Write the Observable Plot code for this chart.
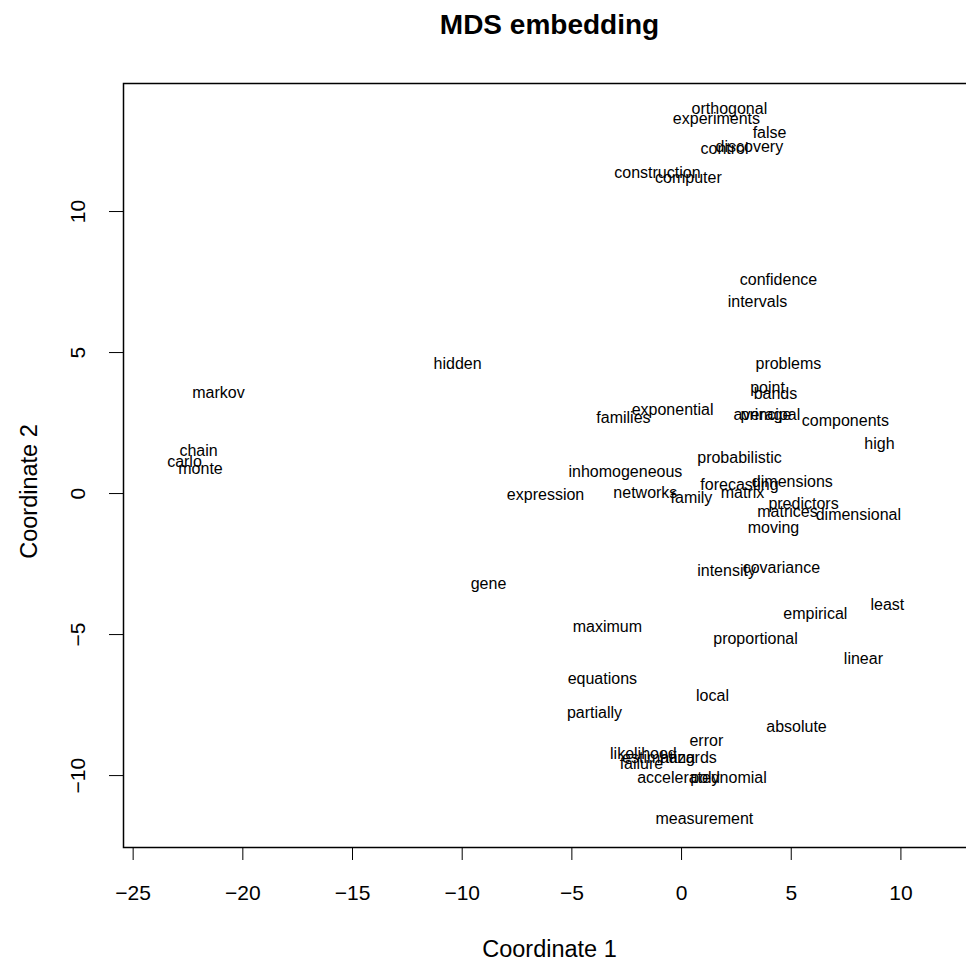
<!DOCTYPE html>
<html><head><meta charset="utf-8">
<script src="https://cdn.jsdelivr.net/npm/d3@7"></script>
<script src="https://cdn.jsdelivr.net/npm/@observablehq/plot@0.6"></script>
<style>body{margin:0;background:#fff;} #chart svg{display:block;}</style>
</head><body><div id="chart"></div>
<script>
const words = ["orthogonal","experiments","false","discovery","control","construction","computer",
  "confidence","intervals","hidden","markov","problems","point","bands","exponential","families",
  "average","principal","components","high","probabilistic","inhomogeneous","dimensions","forecasting",
  "matrix","expression","networks","family","predictors","matrices","dimensional","moving",
  "intensity","covariance","gene","least","empirical","maximum","proportional","linear",
  "equations","local","partially","absolute","error","likelihood","estimating","hazards",
  "failure","accelerated","polynomial","measurement","chain","carlo","monte"];
const xs = [2.18,1.59,4.01,3.09,1.96,-1.10,0.31,
  4.42,3.46,-10.21,-21.11,4.87,3.92,4.28,-0.41,-2.65,
  3.69,4.05,7.47,9.02,2.64,-2.56,5.05,2.64,
  2.78,-6.20,-1.65,0.45,5.56,4.83,8.06,4.19,
  2.05,4.55,-8.80,9.38,6.10,-3.38,3.37,8.29,
  -3.61,1.41,-3.97,5.24,1.13,-1.74,-1.05,0.31,
  -1.83,-0.14,2.14,1.04,-22.02,-22.66,-21.93];
const ys = [13.65,13.30,12.80,12.30,12.23,11.38,11.21,
  7.59,6.81,4.61,3.58,4.61,3.76,3.55,2.98,2.70,
  2.80,2.80,2.59,1.77,1.28,0.78,0.43,0.32,
  0.04,-0.04,0.04,-0.14,-0.35,-0.64,-0.74,-1.21,
  -2.73,-2.62,-3.19,-3.94,-4.26,-4.72,-5.14,-5.85,
  -6.56,-7.16,-7.77,-8.26,-8.76,-9.22,-9.36,-9.36,
  -9.57,-10.07,-10.07,-11.52,1.52,1.13,0.89];
const xTicks = [-25,-20,-15,-10,-5,0,5,10];
const yTicks = [-10,-5,0,5,10];
const titleText = "MDS embedding";
const xLabel = "Coordinate 1";
const yLabel = "Coordinate 2";

const table = words.map((w, i) => ({word: w, x: xs[i], y: ys[i]}));
const font = "'Liberation Sans', Arial, Helvetica, sans-serif";

const chart = Plot.plot({
  width: 966,
  height: 960,
  marginTop: 83,
  marginBottom: 113,
  marginLeft: 123,
  marginRight: -9,
  style: {fontFamily: font, background: "#fff", color: "#000", overflow: "visible"},
  x: {domain: [-25.44, 13.40]},
  y: {domain: [-12.55, 14.54]},
  marks: [
    Plot.frame({stroke: "#000", strokeWidth: 1.5}),
    Plot.axisX(xTicks, {tickSize: 13, tickPadding: 25, fontSize: 21, stroke: "#000", fill: "#000", label: null}),
    Plot.axisY(yTicks, {tickSize: 14, tickPadding: 25, tickRotate: -90, fontSize: 21, stroke: "#000", fill: "#000", label: null}),
    Plot.text(table, {x: "x", y: "y", text: "word", fontSize: 16, fill: "#000"}),
    Plot.text([titleText], {frameAnchor: "top", dy: -50, lineAnchor: "bottom", fontSize: 28, fontWeight: "bold", fill: "#000"}),
    Plot.text([xLabel], {frameAnchor: "bottom", dy: 109, lineAnchor: "bottom", fontSize: 23.5, fill: "#000"}),
    Plot.text([yLabel], {frameAnchor: "left", dx: -87, dy: 26, rotate: -90, textAnchor: "middle", lineAnchor: "bottom", fontSize: 23.5, fill: "#000"})
  ]
});
document.getElementById("chart").appendChild(chart);
</script>
</body></html>
